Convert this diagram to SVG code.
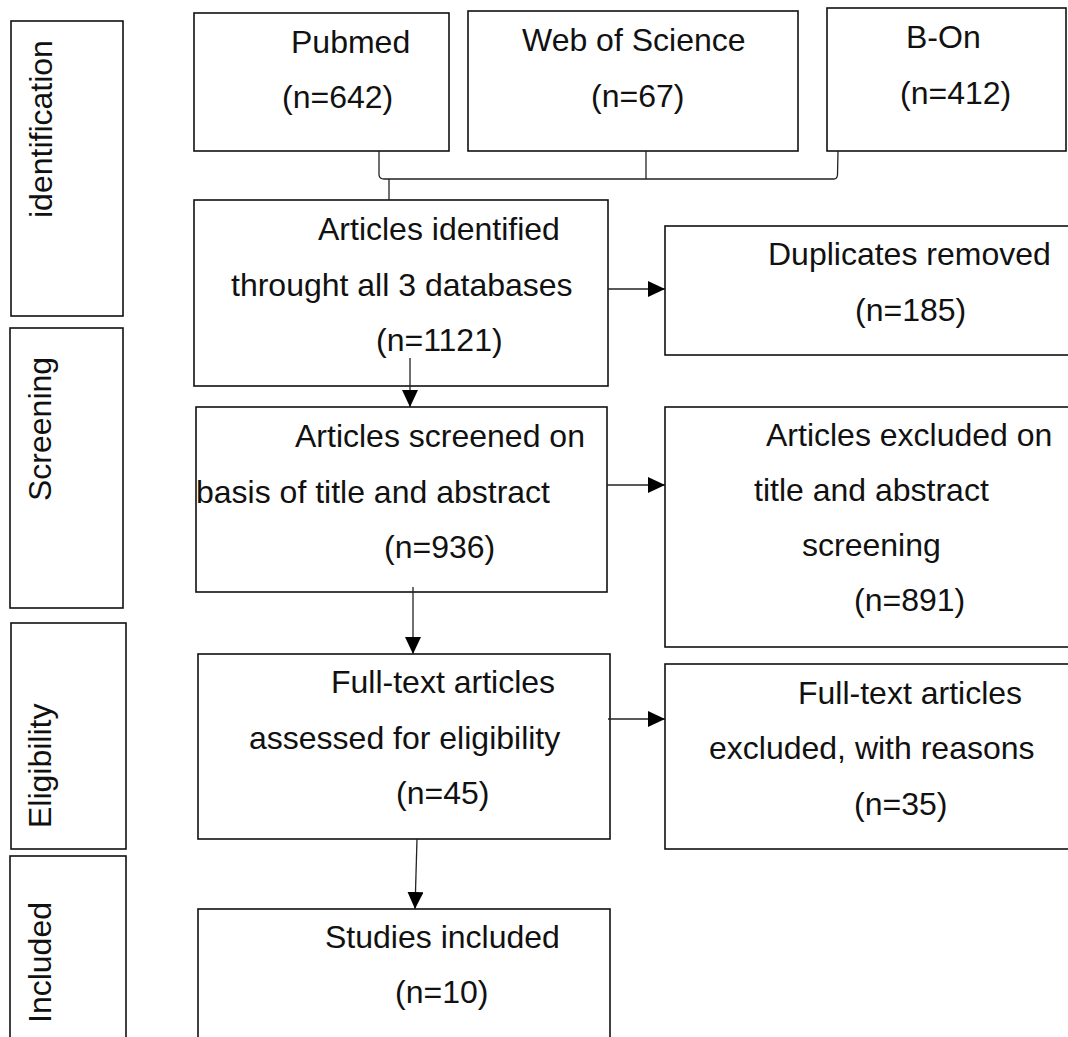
<svg xmlns="http://www.w3.org/2000/svg" width="1068" height="1037" viewBox="0 0 1068 1037">
<defs>
<style>
.box{fill:#fff;stroke:#111;stroke-width:1.6}
.t{font-family:"Liberation Sans",Arial,sans-serif;font-size:32px;fill:#111}
.c{fill:none;stroke:#222;stroke-width:1.3}
</style>
<marker id="ah" markerUnits="userSpaceOnUse" markerWidth="17" markerHeight="16" refX="17" refY="8" orient="auto">
<path d="M0,0 L17,8 L0,16 z" fill="#000"/>
</marker>
</defs>
<rect width="1068" height="1037" fill="#fff"/>

<g id="stage-identification">
<rect class="box" x="11" y="21" width="112" height="295"/>
<text class="t" transform="translate(52,218) rotate(-90)">identification</text>
</g>
<g id="stage-screening">
<rect class="box" x="10" y="328" width="113" height="280"/>
<text class="t" transform="translate(51,501) rotate(-90)">Screening</text>
</g>
<g id="stage-eligibility">
<rect class="box" x="11" y="623" width="115" height="226"/>
<text class="t" transform="translate(51,828) rotate(-90)">Eligibility</text>
</g>
<g id="stage-included">
<rect class="box" x="10" y="856" width="116" height="200"/>
<text class="t" transform="translate(51,1023) rotate(-90)">Included</text>
</g>

<g id="pubmed">
<rect class="box" x="194" y="13" width="255" height="138"/>
<text class="t" x="291" y="53">Pubmed</text>
<text class="t" x="282" y="108">(n=642)</text>
</g>
<g id="wos">
<rect class="box" x="468" y="11" width="330" height="140"/>
<text class="t" x="522" y="51">Web of Science</text>
<text class="t" x="591" y="107">(n=67)</text>
</g>
<g id="bon">
<rect class="box" x="827" y="8" width="239" height="143"/>
<text class="t" x="906" y="48">B-On</text>
<text class="t" x="900" y="104">(n=412)</text>
</g>

<g id="identified">
<rect class="box" x="194" y="200" width="414" height="186"/>
<text class="t" x="318" y="240">Articles identified</text>
<text class="t" x="231" y="296">throught all 3 databases</text>
<text class="t" x="376" y="351">(n=1121)</text>
</g>
<g id="duplicates">
<rect class="box" x="665" y="226" width="420" height="129"/>
<text class="t" x="768" y="265">Duplicates removed</text>
<text class="t" x="855" y="321">(n=185)</text>
</g>

<g id="screened">
<rect class="box" x="196" y="407" width="411" height="185"/>
<text class="t" x="295" y="447">Articles screened on</text>
<text class="t" x="196" y="503">basis of title and abstract</text>
<text class="t" x="384" y="558">(n=936)</text>
</g>
<g id="excluded">
<rect class="box" x="665" y="407" width="420" height="240"/>
<text class="t" x="766" y="446">Articles excluded on</text>
<text class="t" x="754" y="501">title and abstract</text>
<text class="t" x="802" y="556">screening</text>
<text class="t" x="854" y="611">(n=891)</text>
</g>

<g id="eligibility">
<rect class="box" x="198" y="654" width="412" height="185"/>
<text class="t" x="331" y="693">Full-text articles</text>
<text class="t" x="249" y="749">assessed for eligibility</text>
<text class="t" x="396" y="804">(n=45)</text>
</g>
<g id="ft-excluded">
<rect class="box" x="665" y="664" width="420" height="185"/>
<text class="t" x="798" y="704">Full-text articles</text>
<text class="t" x="709" y="759">excluded, with reasons</text>
<text class="t" x="854" y="815">(n=35)</text>
</g>

<g id="included">
<rect class="box" x="198" y="909" width="412" height="160"/>
<text class="t" x="325" y="948">Studies included</text>
<text class="t" x="395" y="1003">(n=10)</text>
</g>

<g id="connectors">
<path class="c" d="M379,151 L379,175 Q379.5,179 384,179 L834,179 Q837,179 837.5,175 L838,151"/>
<path class="c" d="M646,151 L646,179"/>
<path class="c" d="M389,179 L389,200"/>
<path class="c" d="M608,289 L665,289" marker-end="url(#ah)"/>
<path class="c" d="M410,358 L410,407" marker-end="url(#ah)"/>
<path class="c" d="M607,485 L665,485" marker-end="url(#ah)"/>
<path class="c" d="M413,587 L413,654" marker-end="url(#ah)"/>
<path class="c" d="M608,719 L665,719" marker-end="url(#ah)"/>
<path class="c" d="M417,839 L415,909" marker-end="url(#ah)"/>
</g>
</svg>
